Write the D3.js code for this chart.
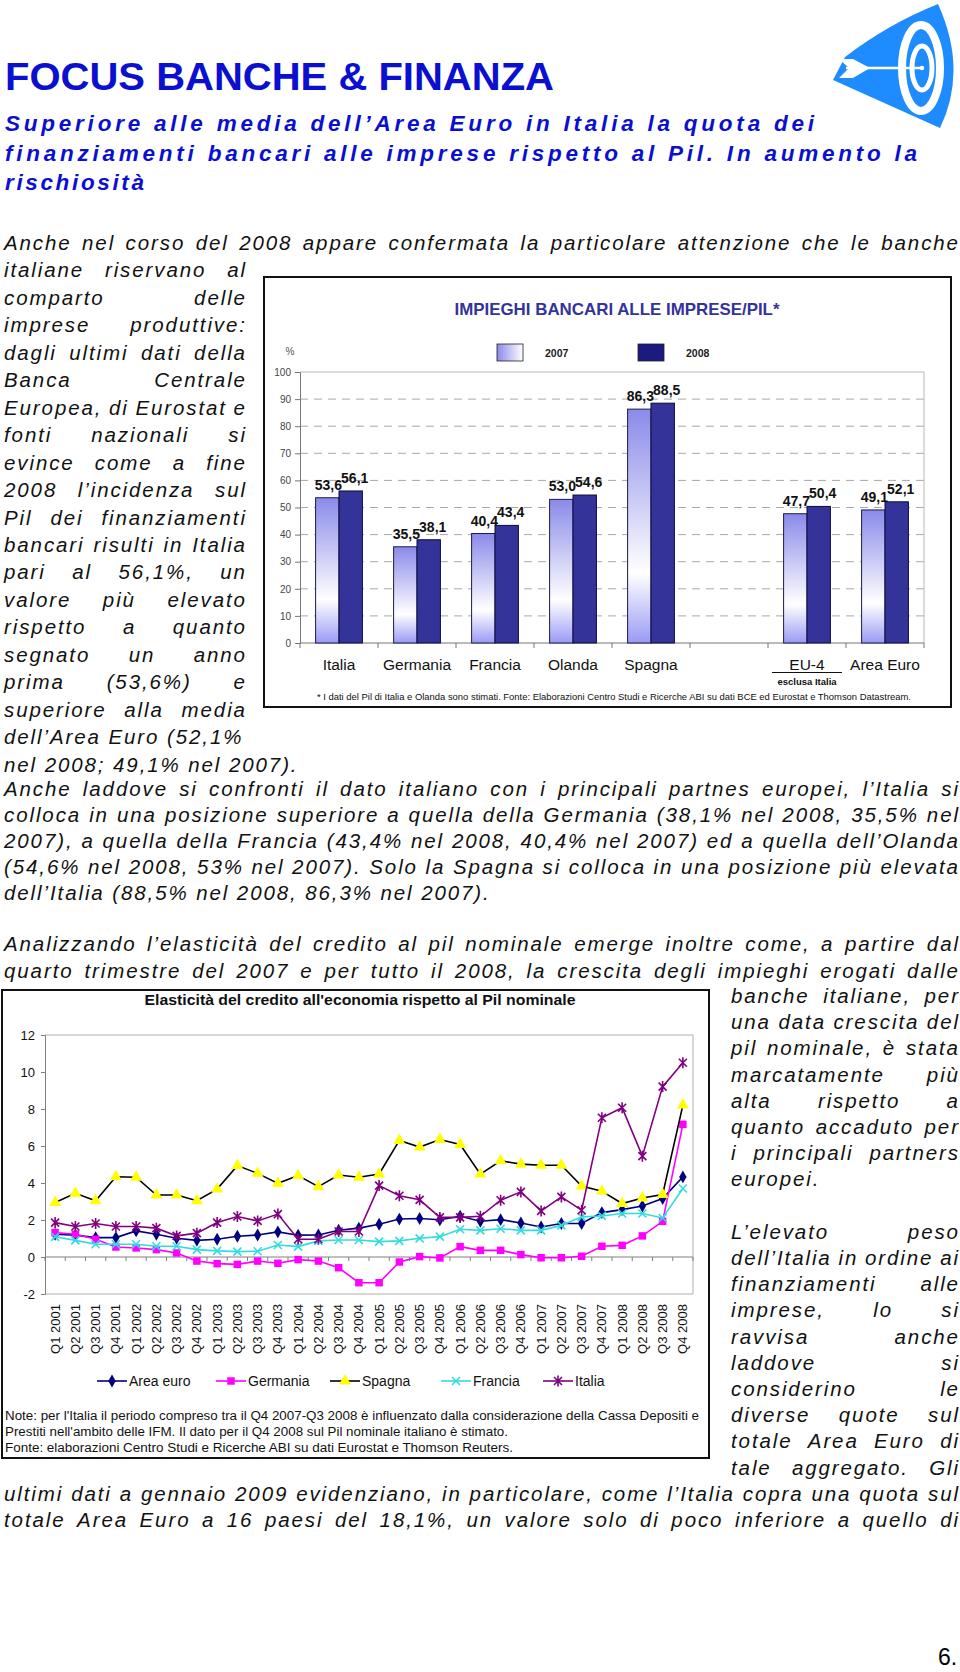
<!DOCTYPE html>
<html><head><meta charset="utf-8">
<script src="https://cdn.jsdelivr.net/npm/d3@7/dist/d3.min.js"></script>
<style>body{margin:0;background:#fff;}svg{display:block;}</style>
</head><body>
<svg id="page" width="960" height="1672"></svg>
<script>
// ---------- DATA: bar chart ----------
const barCategories = ["Italia","Germania","Francia","Olanda","Spagna","","EU-4","Area Euro"];
const values2007 = [53.6,35.5,40.4,53.0,86.3,null,47.7,49.1];
const values2008 = [56.1,38.1,43.4,54.6,88.5,null,50.4,52.1];
const barYTicks = [0,10,20,30,40,50,60,70,80,90,100];
const barLegend = ["2007","2008"];

// ---------- DATA: line chart ----------
const quarters = ["Q1 2001","Q2 2001","Q3 2001","Q4 2001","Q1 2002","Q2 2002","Q3 2002","Q4 2002",
  "Q1 2003","Q2 2003","Q3 2003","Q4 2003","Q1 2004","Q2 2004","Q3 2004","Q4 2004",
  "Q1 2005","Q2 2005","Q3 2005","Q4 2005","Q1 2006","Q2 2006","Q3 2006","Q4 2006",
  "Q1 2007","Q2 2007","Q3 2007","Q4 2007","Q1 2008","Q2 2008","Q3 2008","Q4 2008"];
const areaEuro = [1.23,1.18,1.05,1.05,1.41,1.23,1.01,0.90,0.96,1.12,1.19,1.36,1.18,1.19,1.45,1.56,1.77,2.05,2.08,2.01,2.20,1.93,2.02,1.84,1.62,1.81,1.81,2.40,2.56,2.76,3.16,4.33];
const germania = [1.32,1.23,0.96,0.54,0.49,0.40,0.22,-0.22,-0.36,-0.40,-0.22,-0.34,-0.14,-0.22,-0.58,-1.39,-1.39,-0.27,0.02,-0.05,0.56,0.36,0.36,0.13,-0.04,-0.04,0.04,0.58,0.63,1.14,1.93,7.17];
const spagna = [2.95,3.44,3.04,4.34,4.31,3.35,3.35,3.04,3.67,4.94,4.52,3.98,4.40,3.80,4.43,4.31,4.49,6.30,5.94,6.35,6.08,4.48,5.20,5.02,4.96,4.96,3.83,3.56,2.89,3.19,3.38,8.21];
const francia = [1.09,0.90,0.69,0.69,0.69,0.58,0.58,0.40,0.33,0.29,0.31,0.65,0.56,0.87,0.92,0.92,0.83,0.87,1.01,1.10,1.50,1.44,1.53,1.44,1.44,1.71,2.17,2.22,2.35,2.35,2.11,3.70];
const italia = [1.86,1.65,1.81,1.65,1.65,1.56,1.14,1.29,1.86,2.19,1.95,2.32,0.96,0.96,1.38,1.38,3.86,3.31,3.09,2.14,2.14,2.20,3.07,3.52,2.49,3.25,2.53,7.53,8.07,5.45,9.21,10.5];
const lineYTicks = [-2,0,2,4,6,8,10,12];
const seriesNames = ["Area euro","Germania","Spagna","Francia","Italia"];

// ---------- TEXT ----------
const para1 = [
 {t:"Anche nel corso del 2008 appare confermata la particolare attenzione che le banche", j:1, w:"full"},
 {t:"italiane riservano al", j:1},{t:"comparto delle", j:1},{t:"imprese produttive:", j:1},
 {t:"dagli ultimi dati della", j:1},{t:"Banca Centrale", j:1},{t:"Europea, di Eurostat e", j:1},
 {t:"fonti nazionali si", j:1},{t:"evince come a fine", j:1},{t:"2008 l’incidenza sul", j:1},
 {t:"Pil dei finanziamenti", j:1},{t:"bancari risulti in Italia", j:1},{t:"pari al 56,1%, un", j:1},
 {t:"valore più elevato", j:1},{t:"rispetto a quanto", j:1},{t:"segnato un anno", j:1},
 {t:"prima (53,6%) e", j:1},{t:"superiore alla media", j:1},{t:"dell’Area Euro (52,1%", j:0},
 {t:"nel 2008; 49,1% nel 2007).", j:0}
];
const para2 = [
 {t:"Anche laddove si confronti il dato italiano con i principali partnes europei, l’Italia si", j:1},
 {t:"colloca in una posizione superiore a quella della Germania (38,1% nel 2008, 35,5% nel", j:1},
 {t:"2007), a quella della Francia (43,4% nel 2008, 40,4% nel 2007) ed a quella dell’Olanda", j:1},
 {t:"(54,6% nel 2008, 53% nel 2007). Solo la Spagna si colloca in una posizione più elevata", j:1},
 {t:"dell’Italia (88,5% nel 2008, 86,3% nel 2007).", j:0}
];
const para3 = [
 {t:"Analizzando l’elasticità del credito al pil nominale emerge inoltre come, a partire dal", j:1},
 {t:"quarto trimestre del 2007 e per tutto il 2008, la crescita degli impieghi erogati dalle", j:1}
];
const rightCol = [
 {t:"banche italiane, per", j:1},{t:"una data crescita del", j:1},{t:"pil nominale, è stata", j:1},
 {t:"marcatamente più", j:1},{t:"alta rispetto a", j:1},{t:"quanto accaduto per", j:1},
 {t:"i principali partners", j:1},{t:"europei.", j:0},{t:"", j:0},
 {t:"L’elevato peso", j:1},{t:"dell’Italia in ordine ai", j:1},{t:"finanziamenti alle", j:1},
 {t:"imprese, lo si", j:1},{t:"ravvisa anche", j:1},{t:"laddove si", j:1},
 {t:"considerino le", j:1},{t:"diverse quote sul", j:1},{t:"totale Area Euro di", j:1},
 {t:"tale aggregato. Gli", j:1}
];
const para4 = [
 {t:"ultimi dati a gennaio 2009 evidenziano, in particolare, come l’Italia copra una quota sul", j:1},
 {t:"totale Area Euro a 16 paesi del 18,1%, un valore solo di poco inferiore a quello di", j:1}
];

const svg = d3.select("#page");
const SANS = "'Liberation Sans', Arial, Helvetica, sans-serif";
const BLUE = "#0a0fd0";

// ---------- header ----------
svg.append("text").attr("x",5).attr("y",90).attr("font-family",SANS).attr("font-weight","bold")
  .attr("font-size",39).attr("fill",BLUE).attr("textLength",549).attr("lengthAdjust","spacingAndGlyphs")
  .text("FOCUS BANCHE & FINANZA");
const subLines = [["Superiore alle media dell’Area Euro in Italia la quota dei",809,131],
  ["finanziamenti bancari alle imprese rispetto al Pil. In aumento la",912,161],["rischiosità",139,190]];
subLines.forEach(s=>{
  svg.append("text").attr("x",5).attr("y",s[2]).attr("font-family",SANS).attr("font-weight","bold")
   .attr("font-style","italic").attr("font-size",22.5).attr("fill",BLUE)
   .attr("textLength",s[1]).attr("lengthAdjust","spacing").text(s[0]);
});

// ---------- logo ----------
const LB = "#1e8cff";
const logo = svg.append("g");
logo.append("path").attr("d","M833,80 L845,57 Q888,24 938,4 Q968,70 940,128 Z").attr("fill",LB);
logo.append("ellipse").attr("cx",921).attr("cy",68).attr("rx",19).attr("ry",43)
  .attr("fill","none").attr("stroke","#fff").attr("stroke-width",8);
logo.append("ellipse").attr("cx",922).attr("cy",68).attr("rx",10).attr("ry",22)
  .attr("fill","none").attr("stroke","#fff").attr("stroke-width",5);
logo.append("line").attr("x1",846).attr("y1",68).attr("x2",922).attr("y2",68).attr("stroke","#fff").attr("stroke-width",2.5);
logo.append("polygon").attr("points","839,59 853,59 870,68 853,78 839,78 849,68").attr("fill","#fff");
logo.append("circle").attr("cx",922).attr("cy",68).attr("r",2.2).attr("fill","#fff");

// ---------- justified body text ----------
const FS = 20.5, LS = 1.9;
const ctx = document.createElement("canvas").getContext("2d");
ctx.font = `italic ${FS}px 'Liberation Sans'`;
const bodyG = svg.append("g").attr("font-family",SANS).attr("font-style","italic")
  .attr("font-size",FS).attr("fill","#111").attr("letter-spacing",LS);
function drawLine(ln, x0, width, y){
  if(!ln.t) return;
  const words = ln.t.split(" ");
  const ws = words.map(w=>ctx.measureText(w).width + LS*w.length);
  const sum = d3.sum(ws);
  let gap = ctx.measureText(" ").width + LS;
  if(ln.j && words.length>1) gap = (width + LS - sum)/(words.length-1);
  let x = x0;
  words.forEach((w,k)=>{
    bodyG.append("text").attr("x",x).attr("y",y).text(w);
    x += ws[k] + gap;
  });
}
para1.forEach((ln,i)=>{
  const full = ln.w==="full";
  drawLine(ln, 4, full?954:241, 250 + i*27.45);
});
para2.forEach((ln,i)=>drawLine(ln,4,954,796 + i*26));
para3.forEach((ln,i)=>drawLine(ln,4,954,951 + i*26.5));
rightCol.forEach((ln,i)=>drawLine(ln,731,227,1003 + i*26.2));
para4.forEach((ln,i)=>drawLine(ln,4,954,1501 + i*26));

svg.append("text").attr("x",938).attr("y",1665).attr("font-family",SANS).attr("font-size",23)
  .attr("fill","#000").text("6.");

// ---------- BAR CHART ----------
const defs = svg.append("defs");
const gr = defs.append("linearGradient").attr("id","g07").attr("x1",0).attr("y1",0).attr("x2",0).attr("y2",1);
gr.append("stop").attr("offset","0").attr("stop-color","#8a8aea");
gr.append("stop").attr("offset","0.7").attr("stop-color","#ffffff");
gr.append("stop").attr("offset","1").attr("stop-color","#9a9af4");
const grL = defs.append("linearGradient").attr("id","g07l").attr("x1",0).attr("y1",0).attr("x2",1).attr("y2",0);
grL.append("stop").attr("offset","0").attr("stop-color","#8a8aea");
grL.append("stop").attr("offset","1").attr("stop-color","#ffffff");

const c1 = svg.append("g").attr("font-family",SANS);
c1.append("rect").attr("x",264).attr("y",277).attr("width",687).attr("height",430)
  .attr("fill","#fff").attr("stroke","#111").attr("stroke-width",2);
c1.append("text").attr("x",617).attr("y",315).attr("text-anchor","middle").attr("font-weight","bold")
  .attr("font-size",17).attr("fill","#333399").attr("textLength",325).attr("lengthAdjust","spacingAndGlyphs")
  .text("IMPIEGHI BANCARI ALLE IMPRESE/PIL*");
c1.append("text").attr("x",290).attr("y",355).attr("text-anchor","middle").attr("font-size",10).attr("fill","#555").text("%");

const legX = [497,638];
barLegend.forEach((l,i)=>{
  c1.append("rect").attr("x",legX[i]).attr("y",344).attr("width",26).attr("height",17)
    .attr("fill", i===0?"url(#g07l)":"#1a1a80").attr("stroke","#222").attr("stroke-width",0.8);
  c1.append("text").attr("x",legX[i]+48).attr("y",356.5).attr("font-size",10.5).attr("font-weight","bold")
    .attr("fill","#222").text(l);
});

const xb = d3.scaleBand().domain(d3.range(barCategories.length)).range([300,924]);
const yb = d3.scaleLinear().domain([0,100]).range([643,372]);
const bw = xb.bandwidth();

c1.append("g").selectAll("line").data(barYTicks.filter(v=>v>0&&v<100)).join("line")
  .attr("x1",300).attr("x2",924).attr("y1",d=>yb(d)).attr("y2",d=>yb(d))
  .attr("stroke","#a8a8a8").attr("stroke-width",1).attr("stroke-dasharray","8,6");
c1.append("path").attr("d",`M300,${yb(100)}H924V${yb(0)}`).attr("fill","none").attr("stroke","#b8b8b8");

const yAx = c1.append("g").attr("transform","translate(300,0)")
  .call(d3.axisLeft(yb).tickValues(barYTicks).tickSize(5).tickPadding(4));
yAx.select(".domain").attr("stroke","#777");
yAx.selectAll(".tick line").attr("stroke","#777");
yAx.selectAll("text").attr("font-family",SANS).attr("font-size",10).attr("fill","#444");

c1.append("line").attr("x1",300).attr("x2",924).attr("y1",yb(0)).attr("y2",yb(0)).attr("stroke","#777");
c1.append("g").selectAll("line").data(d3.range(barCategories.length+1)).join("line")
  .attr("x1",d=>300+d*bw).attr("x2",d=>300+d*bw).attr("y1",yb(0)).attr("y2",yb(0)+5).attr("stroke","#777");

const fmt = v => v.toFixed(1).replace(".",",");
const idx = d3.range(barCategories.length).filter(i=>values2007[i]!=null);
c1.append("g").selectAll("rect").data(idx).join("rect")
  .attr("x",i=>xb(i)+bw*0.2).attr("width",bw*0.3)
  .attr("y",i=>yb(values2007[i])).attr("height",i=>yb(0)-yb(values2007[i]))
  .attr("fill","url(#g07)").attr("stroke","#1a1a50").attr("stroke-width",1);
c1.append("g").selectAll("rect").data(idx).join("rect")
  .attr("x",i=>xb(i)+bw*0.5).attr("width",bw*0.3)
  .attr("y",i=>yb(values2008[i])).attr("height",i=>yb(0)-yb(values2008[i]))
  .attr("fill","#333399").attr("stroke","#0a0a40").attr("stroke-width",1);
c1.append("g").selectAll("text").data(idx).join("text")
  .attr("x",i=>xb(i)+bw*0.35+1).attr("y",i=>yb(values2007[i])-8)
  .attr("text-anchor","middle").attr("font-size",14).attr("font-weight","bold").attr("fill","#111")
  .text(i=>fmt(values2007[i]));
c1.append("g").selectAll("text").data(idx).join("text")
  .attr("x",i=>xb(i)+bw*0.65+4).attr("y",i=>yb(values2008[i])-8)
  .attr("text-anchor","middle").attr("font-size",14).attr("font-weight","bold").attr("fill","#111")
  .text(i=>fmt(values2008[i]));
c1.append("g").selectAll("text").data(d3.range(barCategories.length)).join("text")
  .attr("x",i=>xb(i)+bw/2).attr("y",670).attr("text-anchor","middle").attr("font-size",15.5).attr("fill","#111")
  .text(i=>barCategories[i]);
const eu = xb(6)+bw/2;
c1.append("line").attr("x1",eu-35).attr("x2",eu+35).attr("y1",672.5).attr("y2",672.5).attr("stroke","#111");
c1.append("text").attr("x",eu).attr("y",685).attr("text-anchor","middle").attr("font-size",9.5)
  .attr("font-weight","bold").attr("fill","#111").text("esclusa Italia");
c1.append("text").attr("x",614).attr("y",700).attr("text-anchor","middle").attr("font-size",9.5)
  .attr("fill","#111").attr("textLength",594).attr("lengthAdjust","spacingAndGlyphs")
  .text("* I dati del Pil di Italia e Olanda sono stimati. Fonte: Elaborazioni Centro Studi e Ricerche ABI su dati BCE ed Eurostat e Thomson Datastream.");

// ---------- LINE CHART ----------
const c2 = svg.append("g").attr("font-family",SANS);
c2.append("rect").attr("x",2).attr("y",990).attr("width",707).attr("height",468)
  .attr("fill","#fff").attr("stroke","#111").attr("stroke-width",2);
c2.append("text").attr("x",360).attr("y",1005).attr("text-anchor","middle").attr("font-weight","bold")
  .attr("font-size",15).attr("fill","#111").attr("textLength",431).attr("lengthAdjust","spacingAndGlyphs")
  .text("Elasticità del credito all'economia rispetto al Pil nominale");

const xl = d3.scaleBand().domain(quarters).range([45,693]);
const yl = d3.scaleLinear().domain([-2,12]).range([1294,1035]);
const cx = q => xl(q)+xl.bandwidth()/2;

c2.append("path").attr("d",`M45,${yl(12)}H693V${yl(-2)}H45`).attr("fill","none").attr("stroke","#b0b0b0");
const yA2 = c2.append("g").attr("transform","translate(45,0)")
  .call(d3.axisLeft(yl).tickValues(lineYTicks).tickFormat(d=>String(d)).tickSize(4).tickPadding(6));
yA2.select(".domain").attr("stroke","#808080");
yA2.selectAll(".tick line").attr("stroke","#808080");
yA2.selectAll("text").attr("font-family",SANS).attr("font-size",13).attr("fill","#111");
c2.append("line").attr("x1",45).attr("x2",693).attr("y1",yl(0)).attr("y2",yl(0)).attr("stroke","#808080");
c2.append("g").selectAll("line").data(d3.range(quarters.length+1)).join("line")
  .attr("x1",d=>45+d*xl.bandwidth()).attr("x2",d=>45+d*xl.bandwidth())
  .attr("y1",yl(0)).attr("y2",yl(0)+4).attr("stroke","#808080");
c2.append("g").selectAll("text").data(quarters).join("text")
  .attr("transform",q=>`translate(${cx(q)},1304) rotate(-90)`).attr("dy","0.35em")
  .attr("text-anchor","end").attr("font-size",13).attr("fill","#111").text(q=>q);

const symX = "M-4,-4L4,4M-4,4L4,-4";
const symAst = "M-4,-4L4,4M-4,4L4,-4M0,-5.5L0,5.5";
const series = [
  {name:seriesNames[0], v:areaEuro, line:"#000080", mark:d3.symbol(d3.symbolDiamond,48)(), fill:"#000080", stroke:"none"},
  {name:seriesNames[1], v:germania, line:"#ff00ff", mark:d3.symbol(d3.symbolSquare,56)(), fill:"#ff00ff", stroke:"none"},
  {name:seriesNames[2], v:spagna, line:"#000000", mark:d3.symbol(d3.symbolTriangle,62)(), fill:"#ffff00", stroke:"none"},
  {name:seriesNames[3], v:francia, line:"#33dcdc", mark:symX, fill:"none", stroke:"#33dcdc"},
  {name:seriesNames[4], v:italia, line:"#800080", mark:symAst, fill:"none", stroke:"#800080"}
];
const lineGen = d3.line().x((d,i)=>cx(quarters[i])).y(d=>yl(d));
series.forEach(s=>{
  c2.append("path").attr("d",lineGen(s.v)).attr("fill","none").attr("stroke",s.line).attr("stroke-width",1.6);
  c2.append("g").selectAll("path").data(s.v).join("path")
    .attr("transform",(d,i)=>`translate(${cx(quarters[i])},${yl(d)})`)
    .attr("d",s.mark).attr("fill",s.fill).attr("stroke",s.stroke).attr("stroke-width",1.6);
});
const legC = [112,231,345,456,558];
series.forEach((s,i)=>{
  const lx = legC[i], ly = 1381;
  c2.append("line").attr("x1",lx-15).attr("x2",lx+15).attr("y1",ly).attr("y2",ly).attr("stroke",s.line).attr("stroke-width",1.6);
  c2.append("path").attr("transform",`translate(${lx},${ly})`).attr("d",s.mark)
    .attr("fill",s.fill).attr("stroke",s.stroke).attr("stroke-width",1.6);
  c2.append("text").attr("x",lx+17).attr("y",ly+5).attr("font-size",14).attr("fill","#111").text(s.name);
});
const notes = [
 ["Note: per l'Italia il periodo compreso tra il Q4 2007-Q3 2008 è influenzato dalla considerazione della Cassa Depositi e",694],
 ["Prestiti nell'ambito delle IFM. Il dato per il Q4 2008 sul Pil nominale italiano è stimato.",503],
 ["Fonte: elaborazioni Centro Studi e Ricerche ABI su dati Eurostat e Thomson Reuters.",508]
];
notes.forEach((n,i)=>{
  c2.append("text").attr("x",5).attr("y",1420+i*16).attr("font-size",12.5).attr("fill","#111")
    .attr("textLength",n[1]).attr("lengthAdjust","spacingAndGlyphs").text(n[0]);
});
</script>
</body></html>
